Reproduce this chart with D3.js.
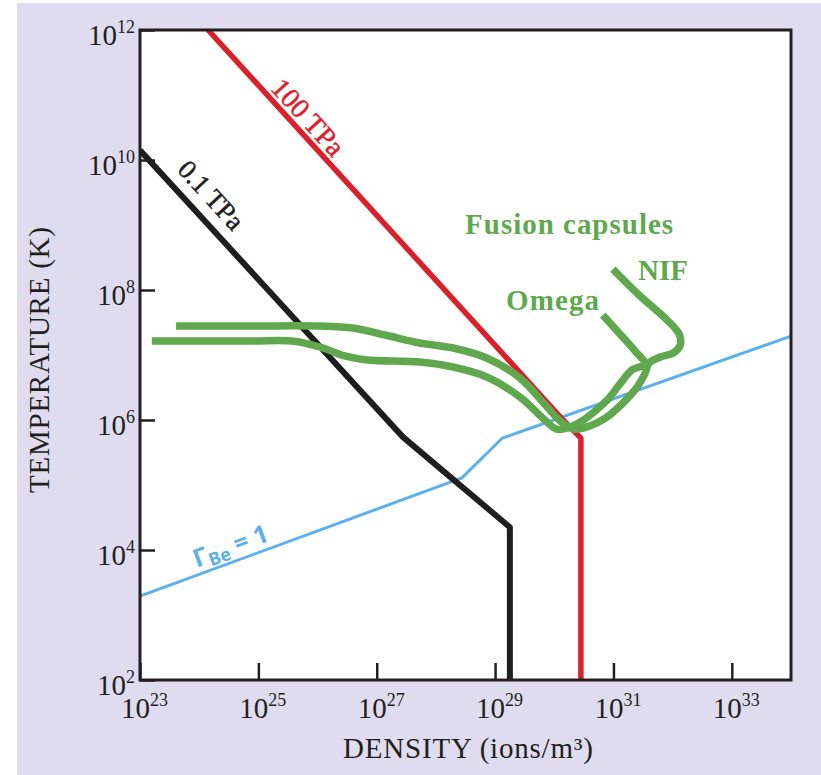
<!DOCTYPE html>
<html><head><meta charset="utf-8">
<script src="https://cdn.jsdelivr.net/npm/d3@7"></script>
<style>body{margin:0;background:#fff;} svg{display:block}</style>
</head><body>
<script>
// All values are log10 exponents: [log10 density (ions/m^3), log10 temperature (K)]
const xTickExponents = [23, 25, 27, 29, 31, 33];
const yTickExponents = [2, 4, 6, 8, 10, 12];
const pressure100TPa = [[24.15, 12], [30.15, 6.0], [30.45, 5.72], [30.45, 2]];
const pressure01TPa = [[23, 10.15], [27.44, 5.74], [29.25, 4.35], [29.25, 2]];
const gammaBe1 = [[23, 3.29], [28.44, 5.11], [29.12, 5.72], [34, 7.29]];
const capsuleNIF = [[23.61,7.446],[24.86,7.446],[26.04,7.446],[26.60,7.415],[27.14,7.308],[27.73,7.185],[28.29,7.108],[28.86,6.954],[29.42,6.646],[29.88,6.200],[30.10,5.985],[30.32,5.862],[30.60,5.908],[30.87,6.031],[31.16,6.262],[31.40,6.508],[31.53,6.708],[31.60,6.877],[31.79,6.969],[32.01,7.031],[32.13,7.154],[32.11,7.323],[31.87,7.569],[31.45,7.908],[30.99,8.323]];
const capsuleOmega = [[23.20,7.215],[24.86,7.215],[25.57,7.215],[26.04,7.123],[26.46,6.985],[26.84,6.923],[27.73,6.892],[28.29,6.815],[28.86,6.662],[29.42,6.354],[29.84,6.0],[30.03,5.862],[30.23,5.877],[30.44,5.969],[30.69,6.138],[30.91,6.323],[31.11,6.554],[31.31,6.769],[31.53,6.862],[31.38,7.046],[31.11,7.323],[30.82,7.615]];

const W = 821, H = 775;
const L = 140, R = 791, T = 30, B = 680;
const svg = d3.select("body").append("svg").attr("width", W).attr("height", H);
svg.append("rect").attr("x", 17).attr("y", 3).attr("width", W - 17).attr("height", H - 3).attr("fill", "#dfdcef");
svg.append("rect").attr("x", L).attr("y", T).attr("width", R - L).attr("height", B - T).attr("fill", "#fff");

const x = d3.scaleLog().domain([1e23, 1e34]).range([L, R]);
const y = d3.scaleLog().domain([1e2, 1e12]).range([B, T]);
const px = d => x(Math.pow(10, d[0]));
const py = d => y(Math.pow(10, d[1]));

svg.append("clipPath").attr("id", "clip").append("rect").attr("x", L).attr("y", T).attr("width", R - L).attr("height", B - T);
const g = svg.append("g").attr("clip-path", "url(#clip)");
const lin = d3.line().x(px).y(py);
const smooth = d3.line().x(px).y(py).curve(d3.curveCatmullRom.alpha(0.5));

// ticks
const serif = "'Liberation Serif', 'Times New Roman', serif";
const ink = "#231f20";
const xAxis = svg.append("g").attr("transform", `translate(0,${B})`)
  .call(d3.axisBottom(x).tickValues(xTickExponents.map(e => Math.pow(10, e))).tickSize(-17).tickFormat(""));
xAxis.select(".domain").remove();
xAxis.selectAll(".tick line").attr("stroke", ink).attr("stroke-width", 2.5);
const yAxis = svg.append("g").attr("transform", `translate(${L},0)`)
  .call(d3.axisLeft(y).tickValues(yTickExponents.map(e => Math.pow(10, e))).tickSize(-15).tickFormat(""));
yAxis.select(".domain").remove();
yAxis.selectAll(".tick line").attr("stroke", ink).attr("stroke-width", 2.5);

// lines
g.append("path").datum(gammaBe1).attr("d", lin).attr("fill", "none").attr("stroke", "#5cb0ec").attr("stroke-width", 3).attr("stroke-linejoin", "round");
g.append("path").datum(pressure01TPa).attr("d", lin).attr("fill", "none").attr("stroke", "#1e1e1e").attr("stroke-width", 6).attr("stroke-linejoin", "round");
g.append("path").datum(pressure100TPa).attr("d", lin).attr("fill", "none").attr("stroke", "#d9202b").attr("stroke-width", 5.5).attr("stroke-linejoin", "round");
[capsuleOmega, capsuleNIF].forEach(c => {
  g.append("path").datum(c).attr("d", smooth).attr("fill", "none").attr("stroke", "#60a84e").attr("stroke-width", 7.5).attr("stroke-linejoin", "round").attr("stroke-linecap", "butt");
});

// frame
svg.append("rect").attr("x", L).attr("y", T).attr("width", R - L).attr("height", B - T).attr("fill", "none").attr("stroke", ink).attr("stroke-width", 3);

// tick labels
xTickExponents.forEach(e => {
  const t = svg.append("text").attr("x", x(Math.pow(10, e)) - 19).attr("y", 718).attr("font-family", serif).attr("font-size", 29).attr("fill", ink);
  t.append("tspan").text("10");
  t.append("tspan").attr("dy", -12).attr("font-size", 18).text(e);
});
yTickExponents.forEach(e => {
  const t = svg.append("text").attr("x", 135).attr("y", y(Math.pow(10, e)) + 15).attr("text-anchor", "end").attr("font-family", serif).attr("font-size", 29).attr("fill", ink);
  t.append("tspan").text("10");
  t.append("tspan").attr("dy", -12).attr("font-size", 18).text(e);
});

// axis titles
svg.append("text").attr("x", 468).attr("y", 758).attr("text-anchor", "middle").attr("font-family", serif).attr("font-size", 29).attr("fill", ink)
  .attr("textLength", 250).attr("lengthAdjust", "spacing").text("DENSITY (ions/m³)");
svg.append("text").attr("transform", "translate(49,360) rotate(-90)").attr("text-anchor", "middle").attr("font-family", serif).attr("font-size", 29).attr("fill", ink)
  .attr("textLength", 266).attr("lengthAdjust", "spacing").text("TEMPERATURE (K)");

// line labels
function angleOf(data, i) {
  return Math.atan2(py(data[i + 1]) - py(data[i]), px(data[i + 1]) - px(data[i])) * 180 / Math.PI;
}
function rotLabel(pos, ang, size, color, txt) {
  return svg.append("text").attr("transform", `translate(${px(pos)},${py(pos)}) rotate(${ang})`)
    .attr("text-anchor", "middle").attr("dominant-baseline", "central").attr("font-family", serif)
    .attr("font-size", size).attr("fill", color).attr("stroke", color).attr("stroke-width", 0.5).text(txt);
}
rotLabel([25.84, 10.66], angleOf(pressure100TPa, 0), 28, "#d9202b", "100 TPa");
rotLabel([24.20, 9.46], angleOf(pressure01TPa, 0), 27, "#1e1e1e", "0.1 TPa");

const gl = svg.append("text").attr("transform", `translate(${px([24.52, 4.08])},${py([24.52, 4.08])}) rotate(${angleOf(gammaBe1, 0)})`)
  .attr("text-anchor", "middle").attr("dominant-baseline", "central").attr("font-family", "'Open Sans', sans-serif")
  .attr("font-size", 25).attr("font-weight", 700).attr("fill", "#5cb0ec");
gl.append("tspan").text("Γ");
gl.append("tspan").attr("dy", 7).attr("font-size", 18).text("Be");
gl.append("tspan").attr("dy", -7).text(" = 1");

const green = "#60a84e";
svg.append("text").attr("x", px([30.25, 9.02])).attr("y", py([30.25, 9.02])).attr("text-anchor", "middle").attr("dominant-baseline", "central")
  .attr("font-family", serif).attr("font-weight", "bold").attr("font-size", 29).attr("fill", green)
  .attr("textLength", 208).attr("lengthAdjust", "spacing").text("Fusion capsules");
svg.append("text").attr("x", px([31.415, 8.154])).attr("y", py([31.415, 8.154])).attr("font-family", serif).attr("font-weight", "bold")
  .attr("font-size", 29).attr("fill", green).attr("textLength", 50).attr("lengthAdjust", "spacing").text("NIF");
svg.append("text").attr("x", px([29.185, 7.69])).attr("y", py([29.185, 7.69])).attr("font-family", serif).attr("font-weight", "bold")
  .attr("font-size", 29).attr("fill", green).attr("textLength", 93).attr("lengthAdjust", "spacing").text("Omega");
</script>
</body></html>
